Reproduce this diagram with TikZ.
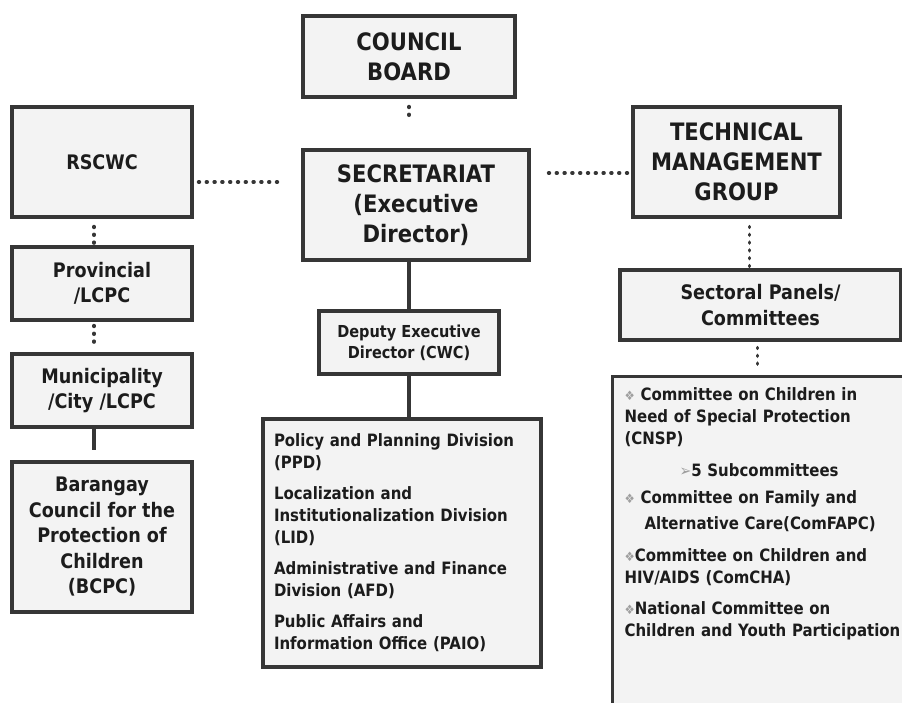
\documentclass[tikz,border=0pt]{standalone}
\usepackage{fontspec}
\setmainfont{DejaVu Sans}[FakeStretch=0.88]
\definecolor{BoxFill}{HTML}{F3F3F3}
\definecolor{BoxLine}{HTML}{363636}
\definecolor{TextInk}{HTML}{1C1C1C}
\newcommand{\dia}{{\color{gray!75}\fontsize{13}{13}\selectfont ❖}}
\newcommand{\arr}{{\color{gray!75}\fontsize{16}{16}\selectfont ➢}}

\begin{document}
\begin{tikzpicture}[x=1pt, y=-1pt,
        box/.style={draw=BoxLine, line width=3.2pt, fill=BoxFill, text=TextInk, align=center, inner sep=0pt},
        big/.style={font=\fontsize{24}{30}\selectfont\bfseries},
        mid/.style={font=\fontsize{20}{25.5}\selectfont\bfseries},
        small/.style={font=\fontsize{17}{22}\selectfont\bfseries},
        dots/.style={draw=BoxLine, line width=3.6pt, line cap=round, dash pattern=on 0.8pt off 7pt},
        link/.style={draw=BoxLine, line width=3.2pt}]
    \useasboundingbox (0,0) rectangle (902,702);
        \node[box, big, minimum width=212pt, minimum height=81pt] (board) at (409,56.5) {COUNCIL\\BOARD};
        \node[box, big, minimum width=226pt, minimum height=110pt] (sec) at (416,205) {SECRETARIAT\\(Executive\\Director)};
        \node[box, big, minimum width=207pt, minimum height=110pt] (tmg) at (736.5,162) {TECHNICAL\\MANAGEMENT\\GROUP};
        \node[box, mid, minimum width=180pt, minimum height=110pt] (rscwc) at (102,162) {RSCWC};
        \node[box, mid, minimum width=180pt, minimum height=73pt] (prov) at (102,283.5) {Provincial\\/LCPC};
        \node[box, mid, minimum width=180pt, minimum height=73pt] (muni) at (102,390.5) {Municipality\\/City /LCPC};
        \node[box, mid, minimum width=180pt, minimum height=150pt] (bcpc) at (102,537) {Barangay\\Council for the\\Protection of\\Children\\(BCPC)};
        \node[box, mid, minimum width=281pt, minimum height=70pt] (sectoral) at (760.5,305) {Sectoral Panels/\\Committees};
        \node[box, font=\fontsize{16.5}{21}\selectfont\bfseries, minimum width=180pt, minimum height=63pt] (deputy) at (409,342.5) {Deputy Executive\\Director (CWC)};
        \node[box, small, align=left, text width=256pt, minimum width=278pt, minimum height=248pt] (divs) at (402,543) {Policy and Planning Division\\
            (PPD)\\[9pt]
            Localization and\\
            Institutionalization Division\\
            (LID)\\[9pt]
            Administrative and Finance\\
            Division (AFD)\\[9pt]
            Public Affairs and\\
            Information Office (PAIO)};
        \node[box, small, align=left, anchor=north west, text width=300pt, inner xsep=12pt, inner ysep=11pt, text depth=330pt] (comm) at (611,375) {\dia{} Committee on Children in\\
            Need of Special Protection\\
            (CNSP)\\[10pt]
            \hspace*{55pt}\arr5 Subcommittees\\[5pt]
            \dia{} Committee on Family and\\[4pt]
            \hspace*{20pt}Alternative Care(ComFAPC)\\[10pt]
            \dia Committee on Children and\\
            HIV/AIDS (ComCHA)\\[9pt]
            \dia National Committee on\\
            Children and Youth Participation};

        \draw[dots, shorten <=8pt, shorten >=30pt] (board.south) -- (board.south |- sec.north);
        \draw[dots, shorten <=5pt, shorten >=24pt] ([yshift=-20pt]rscwc.east) -- ([yshift=-20pt]rscwc.east -| sec.west);
        \draw[dots, shorten <=18pt, shorten >=3pt] ([yshift=32pt]sec.east) -- ([yshift=32pt]sec.east -| tmg.west);
        \draw[dots, shorten <=8pt] ([xshift=-8pt]rscwc.south) -- ([xshift=-8pt]prov.north);
        \draw[dots, shorten <=4pt, shorten >=9pt] ([xshift=-8pt]prov.south) -- ([xshift=-8pt]muni.north);
        \draw[link, shorten >=10pt] ([xshift=-8pt]muni.south) -- ([xshift=-8pt]bcpc.north);
        \draw[link] (deputy.north |- sec.south) -- (deputy.north);
        \draw[link] (deputy.south) -- (deputy.south |- divs.north);
        \draw[dots, shorten <=8pt] ([xshift=13pt]tmg.south) -- ([xshift=13pt]tmg.south |- sectoral.north);
        \draw[dots, shorten <=6pt, shorten >=8pt] ([xshift=-3pt]sectoral.south) -- ([xshift=-3pt]sectoral.south |- comm.north);
    \end{tikzpicture}
\end{document}
